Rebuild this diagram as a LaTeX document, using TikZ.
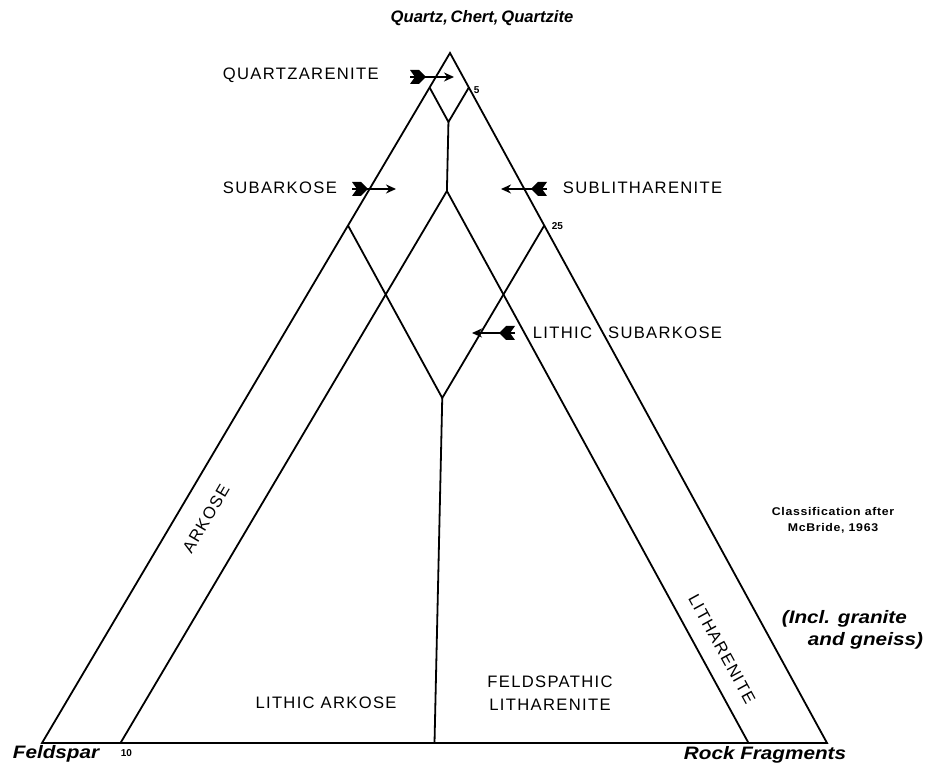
\documentclass[tikz,border=0pt]{standalone}
\usepackage{fontspec}
\setsansfont{Liberation Sans}
\newfontfamily\capsfont[LetterSpace=8]{Liberation Sans}
\newfontfamily\cornerfont[FakeStretch=1.15]{Liberation Sans}
\newfontfamily\notefont[LetterSpace=6,FakeStretch=1.1]{Liberation Sans}
\usetikzlibrary{arrows.meta}

\tikzset{
  fletch/.pic={\fill (0,-7) -- (9,-7) -- (16,0) -- (9,7) -- (0,7) -- (5,0) -- cycle;}
}

\begin{document}
\begin{tikzpicture}[x=0.5pt,y=-0.5pt,line width=0.9pt,
    caps/.style={font=\capsfont\fontsize{8.3}{10}\selectfont, inner sep=0pt},
    corner/.style={font=\cornerfont\bfseries\itshape\fontsize{9}{11}\selectfont, inner sep=0pt},
    tick/.style={font=\sffamily\bfseries\fontsize{5}{6}\selectfont, inner sep=0pt},
    note/.style={font=\notefont\bfseries\fontsize{5.6}{8}\selectfont, inner sep=0pt, align=center},
    pointer/.style={-{Stealth[length=5pt,width=4.5pt]}, line width=0.8pt}]
  \useasboundingbox (0,0) rectangle (942,763);

  % corners of the triangle
  \coordinate (Q) at (450,53);
  \coordinate (F) at (42,743);
  \coordinate (R) at (827,743);
  \draw (Q) -- (F) -- (R) -- cycle;

  % class boundaries (Q, F, R as fractions)
  \coordinate (q95f) at (barycentric cs:Q=.95,F=.05,R=0);
  \coordinate (q95r) at (barycentric cs:Q=.95,F=0,R=.05);
  \coordinate (q90) at (barycentric cs:Q=.90,F=.05,R=.05);
  \coordinate (q80) at (barycentric cs:Q=.80,F=.10,R=.10);
  \coordinate (r10) at (barycentric cs:Q=0,F=.90,R=.10);
  \coordinate (f10) at (barycentric cs:Q=0,F=.10,R=.90);
  \coordinate (q75f) at (barycentric cs:Q=.75,F=.25,R=0);
  \coordinate (q75r) at (barycentric cs:Q=.75,F=0,R=.25);
  \coordinate (q50) at (barycentric cs:Q=.50,F=.25,R=.25);
  \coordinate (half) at (barycentric cs:Q=0,F=.50,R=.50);

  \draw (q95f) -- (q90) -- (q95r);
  \draw (q90) -- (q80);
  \draw (r10) -- (q80) -- (f10);
  \draw (q75f) -- (q50) -- (q75r);
  \draw (q50) -- (half);

  % end members
  \node[corner, font=\sffamily\bfseries\itshape\fontsize{8.3}{10}\selectfont] (topq) at (482,18) {Quartz,\,Chert,\,Quartzite};
  \node[corner, anchor=west] (feld) at (12,754) {Feldspar};
  \node[corner, anchor=west] (rock) at (683,755) {Rock Fragments};

  % scale ticks
  \node[tick, anchor=west] (t5) at (473,90) {5};
  \node[tick, anchor=west] (t25) at (551,226) {25};
  \node[tick, anchor=west] (t10) at (120,753) {10};

  % class names
  \node[caps, anchor=west] (qzar) at (222,75) {QUARTZARENITE};
  \node[caps, anchor=west] (subark) at (222,188) {SUBARKOSE};
  \node[caps, anchor=west] (sublith) at (562,188) {SUBLITHARENITE};
  \node[caps, anchor=west] (lithsub) at (532,333) {LITHIC\hspace{8pt}SUBARKOSE};
  \node[caps, rotate=59.4] (ark) at (206,519) {ARKOSE};
  \node[caps, rotate=-61.3] (lithar) at (722,649) {LITHARENITE};
  \node[caps] (lithark) at (326,703) {LITHIC ARKOSE};
  \node[caps, align=center, font=\capsfont\fontsize{8.3}{11.5}\selectfont] (feldlith) at (550,693) {FELDSPATHIC\\LITHARENITE};

  % notes
  \node[note] (after) at (833,520) {Classification after\\McBride, 1963};
  \node[corner, align=left, anchor=west] (incl) at (781,630) {(Incl. granite\\\hspace*{13pt}and gneiss)};

  % pointers
  \coordinate (qzt) at (410,77);  \coordinate (qzh) at (454,77);
  \coordinate (sat) at (352,189); \coordinate (sah) at (396,189);
  \coordinate (slt) at (547,189); \coordinate (slh) at (501,189);
  \coordinate (lst) at (515,333); \coordinate (lsh) at (472,333);
  \draw[pointer] (qzt) -- (qzh);
  \draw[pointer] (sat) -- (sah);
  \draw[pointer] (slt) -- (slh);
  \draw[pointer] (lst) -- (lsh);
  \pic at (qzt) {fletch};
  \pic at (sat) {fletch};
  \pic[xscale=-1] at (slt) {fletch};
  \pic[xscale=-1] at (lst) {fletch};
\end{tikzpicture}
\end{document}
